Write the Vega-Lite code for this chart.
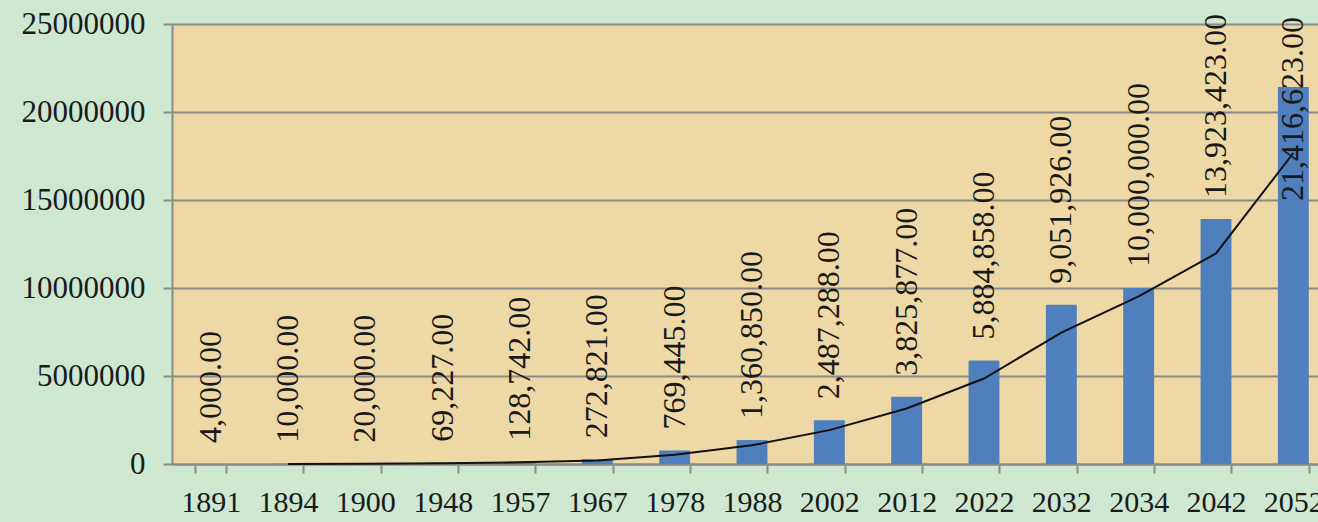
{
  "$schema": "https://vega.github.io/schema/vega-lite/v6.json",
  "width": 1146,
  "height": 440,
  "autosize": {"type": "none"},
  "padding": {"left": 172, "top": 24, "right": 0, "bottom": 58},
  "background": "#CDE7D1",
  "config": {
    "view": {"fill": "#EED9A6", "stroke": null},
    "font": "Liberation Serif",
    "text": {"font": "Liberation Serif"}
  },
  "data": {
    "values": [
      {"year": "1891", "value": 4000, "trend": null},
      {"year": "1894", "value": 10000, "trend": 7000},
      {"year": "1900", "value": 20000, "trend": 15000},
      {"year": "1948", "value": 69227, "trend": 44613},
      {"year": "1957", "value": 128742, "trend": 98984},
      {"year": "1967", "value": 272821, "trend": 200781},
      {"year": "1978", "value": 769445, "trend": 521133},
      {"year": "1988", "value": 1360850, "trend": 1065147},
      {"year": "2002", "value": 2487288, "trend": 1924069},
      {"year": "2012", "value": 3825877, "trend": 3156582},
      {"year": "2022", "value": 5884858, "trend": 4855367},
      {"year": "2032", "value": 9051926, "trend": 7468392},
      {"year": "2034", "value": 10000000, "trend": 9525963},
      {"year": "2042", "value": 13923423, "trend": 11961711},
      {"year": "2052", "value": 21416623, "trend": 17670023}
    ]
  },
  "encoding": {
    "x": {
      "field": "year",
      "type": "ordinal",
      "sort": null,
      "scale": {"range": [0, 1160], "paddingInner": 0.6, "paddingOuter": 0.3},
      "axis": {
        "title": null,
        "labelAngle": 0,
        "labelFont": "Liberation Serif",
        "labelFontSize": 30,
        "labelColor": "#1a1a1a",
        "labelPadding": 14,
        "tickBand": "extent",
        "tickSize": 9,
        "tickWidth": 2,
        "tickColor": "#8a8a8a",
        "domainColor": "#8a8a8a",
        "domainWidth": 2,
        "grid": false
      }
    }
  },
  "layer": [
    {
      "mark": {"type": "bar", "color": "#4F7FBD"},
      "encoding": {
        "y": {
          "field": "value",
          "type": "quantitative",
          "scale": {"domain": [0, 25000000], "nice": false},
          "axis": {
            "title": null,
            "values": [0, 5000000, 10000000, 15000000, 20000000, 25000000],
            "format": "d",
            "labelFont": "Liberation Serif",
            "labelFontSize": 31,
            "labelColor": "#1a1a1a",
            "labelPadding": 18,
            "tickSize": 9,
            "tickWidth": 2,
            "tickColor": "#8a8a8a",
            "domainColor": "#8a8a8a",
            "domainWidth": 2,
            "grid": true,
            "gridColor": "#8a8a8a",
            "gridWidth": 2
          }
        }
      }
    },
    {
      "mark": {"type": "line", "color": "#111111", "strokeWidth": 2},
      "encoding": {
        "y": {"field": "trend", "type": "quantitative"}
      }
    },
    {
      "transform": [{"filter": "datum.year != '2052'"}],
      "mark": {"type": "text", "font": "Liberation Serif", "angle": 270, "align": "left", "baseline": "middle", "dx": 21, "fontSize": 32, "color": "#1a1a1a"},
      "encoding": {
        "y": {"field": "value", "type": "quantitative"},
        "text": {"field": "value", "type": "quantitative", "format": ",.2f"}
      }
    },
    {
      "transform": [{"filter": "datum.year == '2052'"}],
      "mark": {"type": "text", "font": "Liberation Serif", "angle": 270, "align": "right", "baseline": "middle", "dx": 7, "fontSize": 32, "color": "#1a1a1a"},
      "encoding": {
        "y": {"datum": 25000000, "type": "quantitative"},
        "text": {"field": "value", "type": "quantitative", "format": ",.2f"}
      }
    }
  ]
}
